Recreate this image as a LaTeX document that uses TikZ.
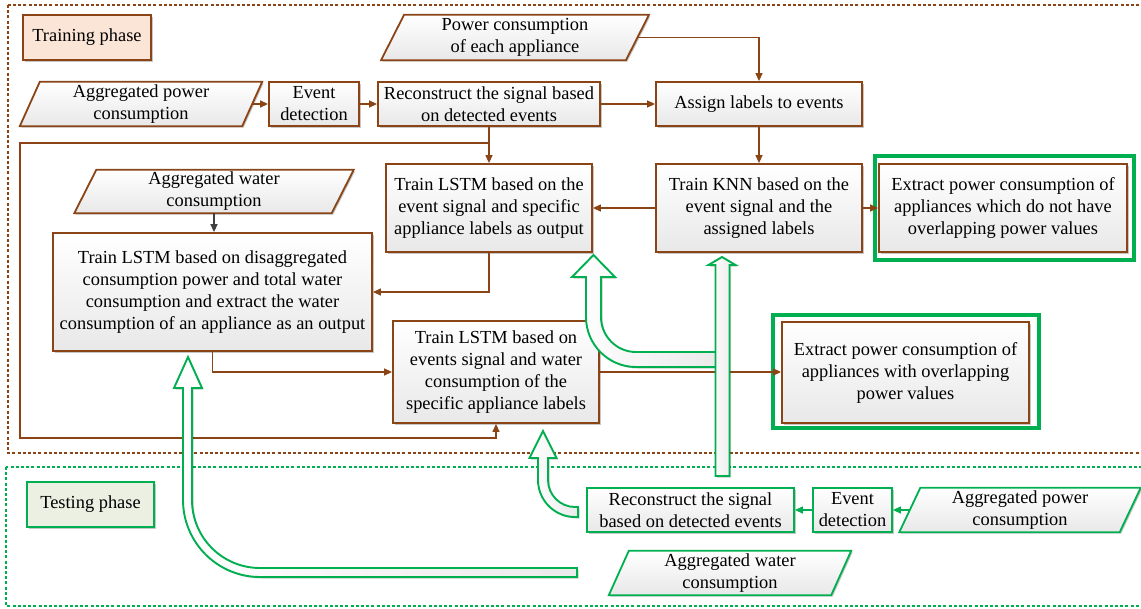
\documentclass[tikz,border=0pt]{standalone}
\usepackage{fontspec}
\setmainfont{Liberation Serif}
\usetikzlibrary{arrows.meta,shadows,calc}
\definecolor{brn}{HTML}{8A4416}
\definecolor{grn}{HTML}{00B050}
\definecolor{peach}{HTML}{FBE5D6}
\definecolor{sage}{HTML}{EBF0E3}
\pgfdeclarelayer{frames}
\pgfdeclarelayer{shapes}
\pgfdeclarelayer{top}
\pgfsetlayers{frames,shapes,main,top}
\begin{document}
\begin{tikzpicture}[x=1pt,y=-1pt,
  every node/.style={font=\fontsize{18.4}{22}\selectfont, align=center, inner sep=0pt},
  shd/.style={drop shadow={shadow xshift=1.5pt,shadow yshift=-1.5pt,opacity=0.22,fill=black}},
  boxb/.style={draw=brn, line width=1.8pt, top color=white, bottom color=black!9, shd},
  boxg/.style={draw=grn, line width=1.8pt, top color=white, bottom color=black!9, shd},
  parab/.style={draw=brn, line width=1.8pt, top color=white, bottom color=black!9, shd},
  parag/.style={draw=grn, line width=1.8pt, top color=white, bottom color=black!9, shd},
  conn/.style={draw=brn, line width=1.3pt, -{Triangle[length=8pt,width=7pt]}},
  conng/.style={draw=grn, line width=1.3pt, -{Triangle[length=8pt,width=7pt]}},
  blk/.style={draw=grn, line width=1.9pt, left color=white, right color=black!8, line join=miter, shd},
  outerg/.style={draw=grn, line width=3.4pt, fill=white, shd},
]
\useasboundingbox (0,0) rectangle (1141,608);

\begin{pgfonlayer}{frames}
\draw[brn, line width=1.6pt, dash pattern=on 3pt off 2.2pt] (8,5) rectangle (1150,453);
\draw[grn, line width=1.4pt, dash pattern=on 3pt off 2.2pt] (6,467) rectangle (1150,606);
\end{pgfonlayer}

% training phase
\node[draw=brn, line width=1.8pt, fill=peach, minimum width=128pt, minimum height=45pt, shd] (trl) at (87,37.5) {Training phase};
\node[minimum width=222pt, minimum height=44pt] (agp1) at (141,104) {Aggregated power\\consumption};
\node[boxb, minimum width=90pt, minimum height=44pt] (ed1) at (314,104) {Event\\detection};
\node[boxb, minimum width=222pt, minimum height=44pt] (rec1) at (489,104) {Reconstruct the signal based\\on detected events};
\node[minimum width=244.5pt, minimum height=45pt] (pca) at (515,37.5) {Power consumption\\of each appliance};
\node[boxb, minimum width=206pt, minimum height=44pt] (asg) at (759,104) {Assign labels to events};
\node[boxb, minimum width=206pt, minimum height=88pt] (lstm1) at (489,208) {Train LSTM based on the\\event signal and specific\\appliance labels as output};
\node[boxb, minimum width=206pt, minimum height=88pt] (knn) at (759,208) {Train KNN based on the\\event signal and the\\assigned labels};
\node[outerg, minimum width=259pt, minimum height=104pt] (ext1o) at (1004.5,208) {};
\node[boxb, minimum width=248pt, minimum height=88pt] (ext1) at (1003,208) {Extract power consumption of\\appliances which do not have\\overlapping power values};
\node[minimum width=257pt, minimum height=43pt] (agw1) at (214,191.5) {Aggregated water\\consumption};
\node[boxb, minimum width=319pt, minimum height=118pt] (dis) at (212.5,292) {Train LSTM based on disaggregated\\consumption power and total water\\consumption and extract the water\\consumption of an appliance as an output};
\node[boxb, minimum width=206pt, minimum height=102pt] (lstmw) at (496,372) {Train LSTM based on\\events signal and water\\consumption of the\\specific appliance labels};
\node[outerg, minimum width=266pt, minimum height=113pt] (ext2o) at (906,371.5) {};
\node[boxb, minimum width=247pt, minimum height=101pt] (ext2) at (905.5,372.5) {Extract power consumption of\\appliances with overlapping\\power values};

% testing phase
\node[draw=grn, line width=1.8pt, fill=sage, minimum width=127pt, minimum height=45pt, shd] (tsl) at (90.5,504.5) {Testing phase};
\node[boxg, minimum width=207pt, minimum height=44pt] (rec2) at (690.5,510) {Reconstruct the signal\\based on detected events};
\node[boxg, minimum width=79pt, minimum height=44pt] (ed2) at (852.5,510) {Event\\detection};
\node[minimum width=220pt, minimum height=44pt] (agp2) at (1020,510) {Aggregated power\\consumption};
\node[minimum width=222pt, minimum height=44pt] (agw2) at (730,573) {Aggregated water\\consumption};

\begin{pgfonlayer}{shapes}
\path[parab] ([xshift=10pt]agp1.north west) -- ([xshift=10pt]agp1.north east) -- ([xshift=-10pt]agp1.south east) -- ([xshift=-10pt]agp1.south west) -- cycle;
\path[parab] ([xshift=11.5pt]pca.north west) -- ([xshift=11.5pt]pca.north east) -- ([xshift=-11.5pt]pca.south east) -- ([xshift=-11.5pt]pca.south west) -- cycle;
\path[parab] ([xshift=11pt]agw1.north west) -- ([xshift=11pt]agw1.north east) -- ([xshift=-11pt]agw1.south east) -- ([xshift=-11pt]agw1.south west) -- cycle;
\path[parag] ([xshift=10.5pt]agp2.north west) -- ([xshift=10.5pt]agp2.north east) -- ([xshift=-10.5pt]agp2.south east) -- ([xshift=-10.5pt]agp2.south west) -- cycle;
\path[parag] ([xshift=10pt]agw2.north west) -- ([xshift=10pt]agw2.north east) -- ([xshift=-10pt]agw2.south east) -- ([xshift=-10pt]agw2.south west) -- cycle;
\end{pgfonlayer}

% connectors
\coordinate (br) at (489,143);
\coordinate (c1) at (20,143);
\coordinate (c2) at (20,438);
\draw[conn] (agp1) -- (ed1);
\draw[conn] (ed1) -- (rec1);
\draw[conn] (rec1) -- (asg);
\draw[conn] (pca.east) -| (asg.north);
\draw[conn] (rec1.south) -- (lstm1.north);
\draw[conn] (br) -- (c1) -- (c2) -| (lstmw.south);
\draw[conn] (asg) -- (knn);
\draw[conn] (knn) -- (lstm1);
\draw[conn] (knn) -- (ext1);
\draw[conn] (lstm1.south) |- (dis.east);
\draw[conn, draw=black!75] (agw1.south) -- (agw1.south |- dis.north);
\draw[conn] (dis.south) |- (lstmw.west);
\draw[conn] (lstmw.east) -- (lstmw.east -| ext2.west);
\draw[conng] (agp2) -- (ed2);
\draw[conng] (ed2) -- (rec2);

% block arrows
\begin{pgfonlayer}{top}
\path[blk] (188,357) -- (202,388) -- (192,388) -- (192,500) .. controls (192,537.6) and (222.4,568) .. (260,568) -- (577,568) -- (577,577) -- (260,577) .. controls (217.5,577) and (183,542.5) .. (183,500) -- (183,388) -- (174,388) -- cycle;
\path[blk] (543,431) -- (556.5,458) -- (548,458) -- (548,480) .. controls (548,494.9) and (560.1,507) .. (575,507) -- (578,507) -- (578,517) -- (575,517) .. controls (554.6,517) and (538,500.4) .. (538,480) -- (538,458) -- (529.5,458) -- cycle;
\path[blk] (593.5,255) -- (615,277) -- (601,277) -- (601,317) .. controls (601,336.3) and (616.7,352) .. (636,352) -- (716,352) -- (716,367) -- (636,367) .. controls (608.4,367) and (586,344.6) .. (586,317) -- (586,277) -- (572,277) -- cycle;
\path[blk] (722,257) -- (735.5,265) -- (729.5,265) -- (729.5,476) -- (715.5,476) -- (715.5,265) -- (708.5,265) -- cycle;
\end{pgfonlayer}
\end{tikzpicture}
\end{document}
